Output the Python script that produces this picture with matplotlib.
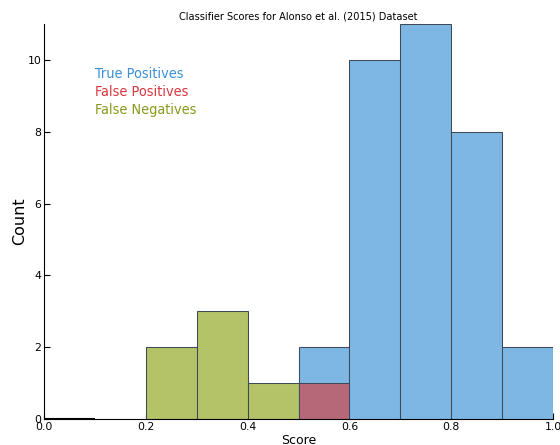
import matplotlib
matplotlib.use("Agg")
import matplotlib.pyplot as plt
import numpy as np

# --- histogram counts per score bin ---
bins = np.arange(0.0, 1.01, 0.1)
tp_counts = [0, 0, 0, 0, 0, 2, 10, 11, 8, 2]
fp_counts = [0, 0, 0, 0, 0, 1, 0, 0, 0, 0]
fn_counts = [0, 0, 2, 3, 1, 0, 0, 0, 0, 0]
empty_counts = [0]  # zero-height bin at 0.0-0.1

labels = ["True Positives", "False Positives", "False Negatives"]
text_colors = ["#3a8fd6", "#d9363e", "#8a9a1a"]
fill_colors = ["#7eb7e4", "#b76878", "#b4c268"]

fig = plt.figure(figsize=(5.6, 4.45), dpi=100)
ax = fig.add_axes([0.0786, 0.0584, 0.9089, 0.8876])

lefts = bins[:-1]
w = 0.1
edge = "#3e4a55"


def draw_bars(counts, color):
    c = np.array(counts)
    m = c > 0
    ax.bar(lefts[m], c[m], width=w, align="edge", color=color,
           edgecolor=edge, linewidth=0.75, zorder=2)


draw_bars(fn_counts, fill_colors[2])
draw_bars(tp_counts, fill_colors[0])
draw_bars(fp_counts, fill_colors[1])
ax.bar(lefts[:len(empty_counts)], empty_counts, width=w, align="edge",
       color="none", edgecolor="black", linewidth=1.5, zorder=3)

ax.set_xlim(0, 1)
ax.set_ylim(0, 11)
ax.set_xticks(np.arange(0, 1.01, 0.2))
ax.set_yticks(np.arange(0, 11, 2))
ax.set_xticklabels(["0.0", "0.2", "0.4", "0.6", "0.8", "1.0"])
ax.tick_params(direction="in", length=4, labelsize=7.8, pad=2, top=False, right=False)
ax.spines["top"].set_visible(False)
ax.spines["right"].set_visible(False)
ax.set_xlabel("Score", fontsize=9, labelpad=1.5)
ax.set_ylabel("Count", fontsize=11.5, labelpad=0)
ax.set_title("Classifier Scores for Alonso et al. (2015) Dataset", fontsize=7.8,
             fontstretch="condensed", pad=3)

for i, (lab, col) in enumerate(zip(labels, text_colors)):
    ax.text(0.1, 9.6 - i * 0.5, lab, color=col, fontsize=10.4,
            fontstretch="condensed", va="center", ha="left")

fig.savefig("out.png", dpi=100)
